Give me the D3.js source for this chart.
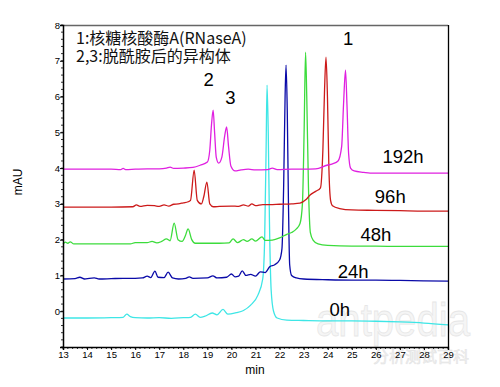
<!DOCTYPE html>
<html><head><meta charset="utf-8">
<script src="https://cdn.jsdelivr.net/npm/d3@7/dist/d3.min.js"></script>
<style>html,body{margin:0;padding:0;background:#fff}svg{display:block}</style>
</head><body>
<svg id="chart" width="500" height="387"></svg>
<script>
// ---- data (time in min, absorbance in mAU) ----
const xTicks = [13,14,15,16,17,18,19,20,21,22,23,24,25,26,27,28,29];
const yTicks = [0,1,2,3,4,5,6,7,8];
const seriesNames = ["0h","24h","48h","96h","192h"];
const seriesColors = ["#3ee6e6","#0a0aa8","#3cdc3c","#cc1a1a","#e020e0"];

const trace0h = [[13,-0.19],[14,-0.19],[15,-0.18],[15.5,-0.17],[15.65,-0.08],[15.8,-0.15],[16,-0.18],[16.5,-0.19],[17,-0.18],[17.5,-0.2],[18,-0.18],[18.3,-0.17],[18.5,-0.08],[18.7,-0.17],[18.9,-0.14],[19.2,-0.05],[19.4,-0.1],[19.65,0.05],[19.85,-0.08],[20.2,-0.04],[20.5,0.02],[20.8,0.17],[21.1,0.45],[21.3,0.9],[21.38,2.0],[21.44,4.5],[21.48,6.32],[21.53,5.0],[21.58,2.5],[21.65,0.6],[21.75,0.0],[21.9,-0.19],[22.3,-0.25],[23,-0.26],[24,-0.27],[25,-0.27],[26,-0.28],[27,-0.3],[28,-0.33],[29,-0.38]];
const trace24h = [[13,0.9],[13.5,0.91],[13.7,0.95],[13.9,0.9],[14.1,0.92],[14.3,0.93],[14.5,0.9],[15,0.91],[15.5,0.92],[16,0.92],[16.3,0.93],[16.5,0.98],[16.65,0.94],[16.82,1.12],[16.95,0.95],[17.2,0.94],[17.37,1.09],[17.55,0.93],[17.8,0.9],[18.1,0.92],[18.25,0.96],[18.4,0.92],[19,0.93],[19.23,0.99],[19.4,0.93],[19.8,0.95],[20.0,1.04],[20.15,0.96],[20.3,0.98],[20.45,1.13],[20.6,1.0],[20.8,1.03],[21.0,0.98],[21.2,1.1],[21.4,1.08],[21.6,1.25],[21.8,1.3],[22.0,1.43],[22.1,1.75],[22.17,3.5],[22.23,6.0],[22.27,6.88],[22.32,5.6],[22.37,3.0],[22.42,1.3],[22.5,1.0],[22.7,0.93],[23,0.9],[24,0.88],[25,0.87],[26,0.87],[27,0.86],[28,0.85],[29,0.84]];
const trace48h = [[13,1.88],[13.1,1.93],[13.2,1.9],[13.3,1.94],[13.45,1.88],[14,1.88],[15,1.88],[15.8,1.88],[16,1.92],[16.5,1.92],[16.7,1.95],[16.9,1.91],[17.1,1.95],[17.3,2.02],[17.45,1.97],[17.62,2.46],[17.78,2.0],[17.95,1.95],[18.08,2.1],[18.2,2.3],[18.35,2.0],[18.5,1.9],[19,1.9],[19.5,1.9],[19.9,1.91],[20.07,2.02],[20.25,1.92],[20.5,2.0],[20.65,1.95],[20.85,2.02],[21.0,1.96],[21.27,2.08],[21.4,1.98],[21.7,1.99],[22.0,2.05],[22.3,2.15],[22.5,2.2],[22.7,2.3],[22.85,2.45],[22.95,3.0],[23.02,5.0],[23.08,7.24],[23.13,6.0],[23.2,3.5],[23.28,2.2],[23.4,1.98],[23.6,1.88],[24,1.84],[25,1.82],[26,1.82],[27,1.81],[28,1.81],[29,1.81]];
const trace96h = [[13,2.91],[14,2.91],[15,2.91],[15.9,2.92],[16.05,2.97],[16.2,2.93],[16.5,2.96],[16.8,2.95],[17.0,2.93],[17.2,2.97],[17.4,2.94],[17.6,2.99],[17.8,3.0],[18.0,3.03],[18.2,3.06],[18.3,3.1],[18.45,3.94],[18.58,3.1],[18.75,3.0],[18.85,3.2],[18.98,3.61],[19.1,3.0],[19.25,2.92],[19.5,2.93],[20.0,2.94],[20.3,2.93],[20.5,2.97],[20.7,2.94],[20.85,3.0],[21.0,2.95],[21.3,2.98],[21.6,2.98],[22,2.99],[22.5,3.0],[22.85,3.02],[23.1,3.12],[23.27,3.25],[23.5,3.35],[23.7,3.45],[23.8,4.5],[23.87,6.2],[23.93,7.1],[23.99,6.0],[24.05,4.0],[24.12,3.1],[24.2,2.95],[24.5,2.87],[25,2.83],[26,2.82],[27,2.81],[28,2.8],[29,2.8]];
const trace192h = [[13,3.97],[14,3.97],[15,3.97],[15.4,3.96],[15.5,3.99],[15.6,3.96],[16,3.97],[16.5,3.98],[17,3.98],[17.3,4.0],[17.45,4.03],[17.6,3.99],[18,4.0],[18.4,4.02],[18.7,4.08],[19.0,4.17],[19.1,4.5],[19.17,5.2],[19.24,5.62],[19.3,5.0],[19.37,4.3],[19.47,4.14],[19.6,4.3],[19.72,4.9],[19.8,5.15],[19.88,4.6],[19.98,4.05],[20.15,3.92],[20.4,3.95],[20.7,3.97],[21,3.95],[21.5,3.96],[21.7,4.0],[21.9,3.96],[22.5,3.97],[23,3.97],[23.5,3.98],[23.97,4.08],[24.2,4.12],[24.43,4.2],[24.58,4.6],[24.66,5.8],[24.74,6.74],[24.8,5.8],[24.87,4.4],[24.95,4.0],[25.1,3.92],[25.5,3.88],[25.76,3.86],[26,3.86],[27,3.86],[28,3.86],[29,3.86]];
const traces = [trace0h, trace24h, trace48h, trace96h, trace192h];

// series label anchors (time, mAU) and peak labels
const seriesLabelAt = [[24.5,-0.12],[25.06,0.93],[26.0,1.96],[26.6,3.02],[27.13,4.14]];
const peakLabels = ["1","2","3"];
const peakLabelAt = [[24.85,7.45],[19.05,6.3],[19.96,5.8]];
const legendLines = ["1:核糖核酸酶A(RNaseA)","2,3:脱酰胺后的异构体"];
const watermark = ["antpedia","分析测试百科"];

// ---- layout ----
const svg = d3.select("#chart");
const L = 63, R = 448, T = 25, B = 347;
const x = d3.scaleLinear().domain([13,29]).range([L,R]);
const y = d3.scaleLinear().domain([-1,8]).range([B,T]);
const font = "Arial, 'Liberation Sans', sans-serif";

// watermark (faint)
const wm = svg.append("g").attr("opacity",0.5);
wm.append("text").attr("x",316).attr("y",336).attr("font-family",font).attr("font-size",46)
  .attr("textLength",154).attr("lengthAdjust","spacingAndGlyphs")
  .attr("fill","#ececec").attr("stroke","#cfcfcf").attr("stroke-width",0.8).text(watermark[0]);
wm.append("text").attr("x",373).attr("y",362).attr("font-family","'Noto Sans CJK SC', sans-serif").attr("font-size",15)
  .attr("textLength",96).attr("lengthAdjust","spacingAndGlyphs")
  .attr("fill","#e2e2e2").attr("stroke","#c8c8c8").attr("stroke-width",0.5).text(watermark[1]);

// traces
const line = d3.line().x(d=>x(d[0])).y(d=>y(d[1])).curve(d3.curveMonotoneX);
const gT = svg.append("g");
traces.forEach((tr,i)=>{
  gT.append("path").attr("d",line(tr)).attr("fill","none")
    .attr("stroke",seriesColors[i]).attr("stroke-width",1.3).attr("stroke-linejoin","round");
});

// frame: top gray, right black
svg.append("line").attr("x1",L).attr("x2",R).attr("y1",T+0.5).attr("y2",T+0.5).attr("stroke","#666").attr("stroke-width",1.5);
svg.append("line").attr("x1",R+0.5).attr("x2",R+0.5).attr("y1",T).attr("y2",B).attr("stroke","#000").attr("stroke-width",1.3);

// axes
const xAxis = d3.axisBottom(x).tickValues(xTicks).tickSize(3).tickPadding(1).tickFormat(d3.format("d"));
const gx = svg.append("g").attr("transform",`translate(0,${B})`).call(xAxis);
const yAxis = d3.axisLeft(y).tickValues(yTicks).tickSize(3).tickPadding(0).tickFormat(d3.format("d"));
const gy = svg.append("g").attr("transform",`translate(${L},0)`).call(yAxis);
[gx,gy].forEach(g=>{
  g.selectAll("text").attr("font-family",font).attr("font-size",9.5).attr("fill","#000");
  g.select(".domain").attr("stroke","#000").attr("stroke-width",1.5);
});
// minor ticks
const minorX = d3.range(13,29.001,0.2);
svg.append("g").selectAll("line").data(minorX).join("line")
  .attr("x1",d=>x(d)).attr("x2",d=>x(d)).attr("y1",B).attr("y2",B+2).attr("stroke","#000").attr("stroke-width",0.8);
const minorY = d3.range(-1,8.001,0.2);
svg.append("g").selectAll("line").data(minorY).join("line")
  .attr("x1",L-2).attr("x2",L).attr("y1",d=>y(d)).attr("y2",d=>y(d)).attr("stroke","#000").attr("stroke-width",0.8);

// axis titles
svg.append("text").attr("transform","translate(22,182) rotate(-90)").attr("text-anchor","middle")
  .attr("font-family",font).attr("font-size",12).text("mAU");
svg.append("text").attr("x",255).attr("y",374).attr("text-anchor","middle")
  .attr("font-family",font).attr("font-size",12).text("min");

// series labels
seriesNames.forEach((n,i)=>{
  svg.append("text").attr("x",x(seriesLabelAt[i][0])).attr("y",y(seriesLabelAt[i][1]))
    .attr("text-anchor","middle").attr("font-family",font).attr("font-size",18.5).attr("fill","#000").text(n);
});
peakLabels.forEach((n,i)=>{
  svg.append("text").attr("x",x(peakLabelAt[i][0])).attr("y",y(peakLabelAt[i][1]))
    .attr("text-anchor","middle").attr("font-family",font).attr("font-size",18.5).attr("fill","#000").text(n);
});

// legend text
legendLines.forEach((t,i)=>{
  svg.append("text").attr("x",76).attr("y",44+i*18).attr("font-family","'Noto Sans CJK SC', Arial, sans-serif")
    .attr("font-size",16).attr("fill","#111").text(t);
});
</script>
</body></html>
